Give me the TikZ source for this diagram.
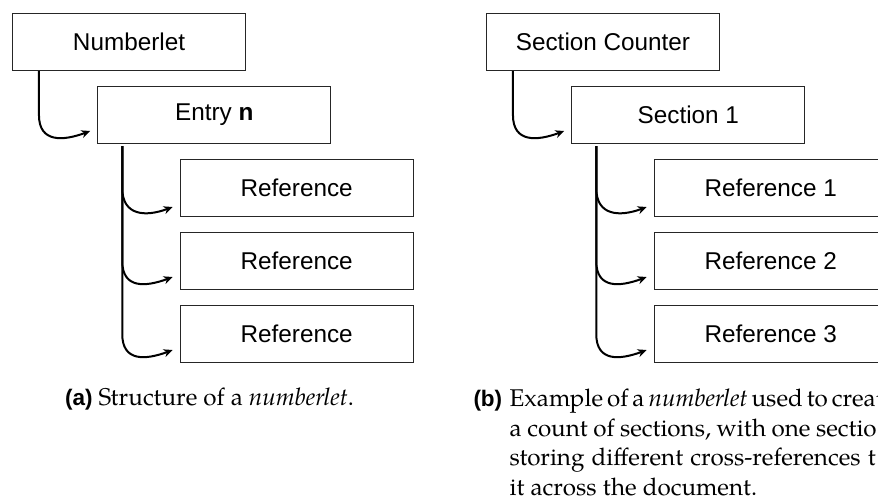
\documentclass[tikz,border=0pt]{standalone}
\usepackage{fontspec}
\setmainfont{TeX Gyre Pagella}
\newfontfamily\boxfont{Liberation Sans}
\usetikzlibrary{arrows.meta,calc}
\begin{document}
\begin{tikzpicture}[x=1pt,y=-1pt,
  box/.style={draw=black!85,line width=1.1pt,minimum width=233pt,minimum height=57pt,inner sep=0pt,
    font=\boxfont\fontsize{24.3}{29}\selectfont},
  conn/.style={line width=2pt,-{Stealth[length=9pt,width=8pt]}},
  captext/.style={anchor=base west,inner sep=0pt,font=\fontsize{24.2}{29.5}\selectfont},
  sublab/.style={anchor=base west,inner sep=0pt,font=\boxfont\bfseries\fontsize{22.5}{29}\selectfont}]
\fill[white] (0,0) rectangle (878,499);
\useasboundingbox (0,0) rectangle (878,499);
\clip (0,0) rectangle (878,499);

% ---- panel (a)
\node[box] (N)  at (129,42)    {Numberlet};
\node[box] (E)  at (214.3,115) {Entry \textbf{n}};
\node[box] (R1) at (296.7,188) {Reference};
\node[box] (R2) at (296.7,261) {Reference};
\node[box] (R3) at (296.7,334) {Reference};

\coordinate (a0) at ($(N.south west)+(27,0)$);
\draw[conn] (a0) -- (a0 |- E.west) .. controls +(0,28) and +(-27,10) .. ($(E.west)+(-7,16)$);
\coordinate (a1) at ($(E.south west)+(25,2)$);
\draw[conn] (a1) -- (a1 |- R1.west) .. controls +(0,28) and +(-27,10) .. ($(R1.west)+(-7,19)$);
\draw[conn] (a1) -- (a1 |- R2.west) .. controls +(0,28) and +(-27,10) .. ($(R2.west)+(-7,16)$);
\draw[conn] (a1) -- (a1 |- R3.west) .. controls +(0,28) and +(-27,10) .. ($(R3.west)+(-7,16)$);

% ---- panel (b)
\node[box] (SC) at (603,42)    {Section Counter};
\node[box] (S1) at (688.3,115) {Section 1};
\node[box] (Q1) at (770.7,188) {Reference 1};
\node[box] (Q2) at (770.7,261) {Reference 2};
\node[box] (Q3) at (770.7,334) {Reference 3};

\coordinate (b0) at ($(SC.south west)+(27,0)$);
\draw[conn] (b0) -- (b0 |- S1.west) .. controls +(0,28) and +(-27,10) .. ($(S1.west)+(-7,16)$);
\coordinate (b1) at ($(S1.south west)+(25,2)$);
\draw[conn] (b1) -- (b1 |- Q1.west) .. controls +(0,28) and +(-27,10) .. ($(Q1.west)+(-7,19)$);
\draw[conn] (b1) -- (b1 |- Q2.west) .. controls +(0,28) and +(-27,10) .. ($(Q2.west)+(-7,16)$);
\draw[conn] (b1) -- (b1 |- Q3.west) .. controls +(0,28) and +(-27,10) .. ($(Q3.west)+(-7,16)$);

% ---- captions
\node[sublab] (la) at (65,405.5) {(a)};
\node[captext] (ca) at (98.3,405.5) {Structure of a \emph{numberlet}.};

\node[sublab] (lb) at (473.3,406.5) {(b)};
\node[captext] (cb1) at (509.5,406.5) {\makebox[366pt][s]{Example of a \emph{numberlet} used to creat}};
\node[captext] (cb2) at (509.5,436) {\makebox[367pt][s]{a count of sections, with one sectio}};
\node[captext] (cb3) at (509.5,465.5) {\makebox[366pt][s]{storing different cross-references t}};
\node[captext] (cb4) at (509.5,495) {it across the document.};
\end{tikzpicture}
\end{document}
